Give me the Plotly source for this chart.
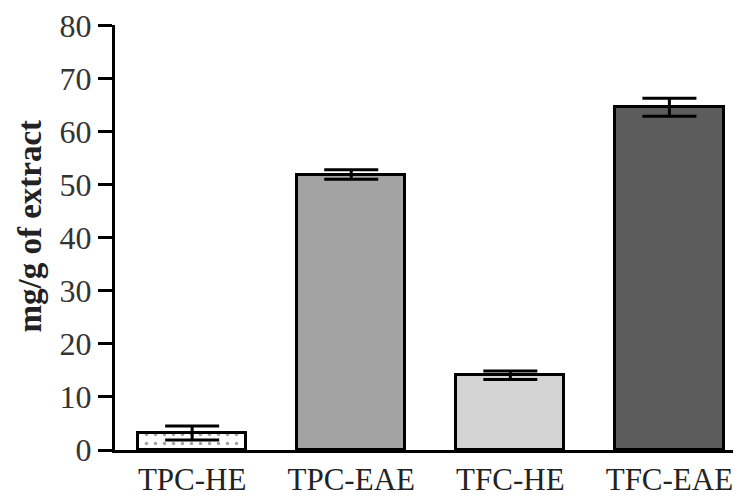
import plotly.graph_objects as go

categories = ["TPC-HE", "TPC-EAE", "TFC-HE", "TFC-EAE"]
values = [3.2, 51.9, 14.1, 64.6]
errors = [1.3, 0.9, 0.8, 1.7]
colors = ["#ffffff", "#a3a3a3", "#d4d4d4", "#5c5c5c"]
y_ticks = [0, 10, 20, 30, 40, 50, 60, 70, 80]

fig = go.Figure()
fig.add_trace(go.Bar(
    x=list(range(len(categories))),
    y=values,
    width=0.68,
    marker=dict(
        color=colors,
        line=dict(color="black", width=3),
        pattern=dict(shape=[".", "", "", ""], size=9, solidity=0.12, fgcolor="#aaaaaa"),
    ),
    error_y=dict(type="data", array=errors, visible=True, color="black", thickness=3, width=27),
))

fig.update_layout(
    width=733, height=489,
    margin=dict(l=107, r=0, t=17, b=47),
    plot_bgcolor="white", paper_bgcolor="white",
    showlegend=False,
    font=dict(family="Liberation Serif", color="#222222"),
    bargap=0,
    annotations=[dict(
        text="<b>mg/g of extract</b>", textangle=-90,
        xref="paper", yref="paper", x=0, y=0.5,
        xanchor="center", yanchor="middle", xshift=-86, yshift=11,
        showarrow=False,
        font=dict(size=33, family="Liberation Serif", color="#222222"),
    )],
)
fig.update_xaxes(
    range=[-0.485, 3.45],
    tickvals=list(range(len(categories))), ticktext=categories,
    tickfont=dict(size=31, family="Liberation Serif", color="#222222"),
    showline=True, linecolor="black", linewidth=3,
    ticks="", showgrid=False, zeroline=False, automargin=False,
)
fig.update_yaxes(
    range=[0, 80.08], tickvals=y_ticks, ticklabeloverflow="allow",
    tickfont=dict(size=32, family="Liberation Serif", color="#333333"),
    showline=True, linecolor="black", linewidth=3,
    ticks="outside", ticklen=14, tickwidth=3, tickcolor="black",
    showgrid=False, zeroline=False, automargin=False,
)

fig.write_html("out.html")
